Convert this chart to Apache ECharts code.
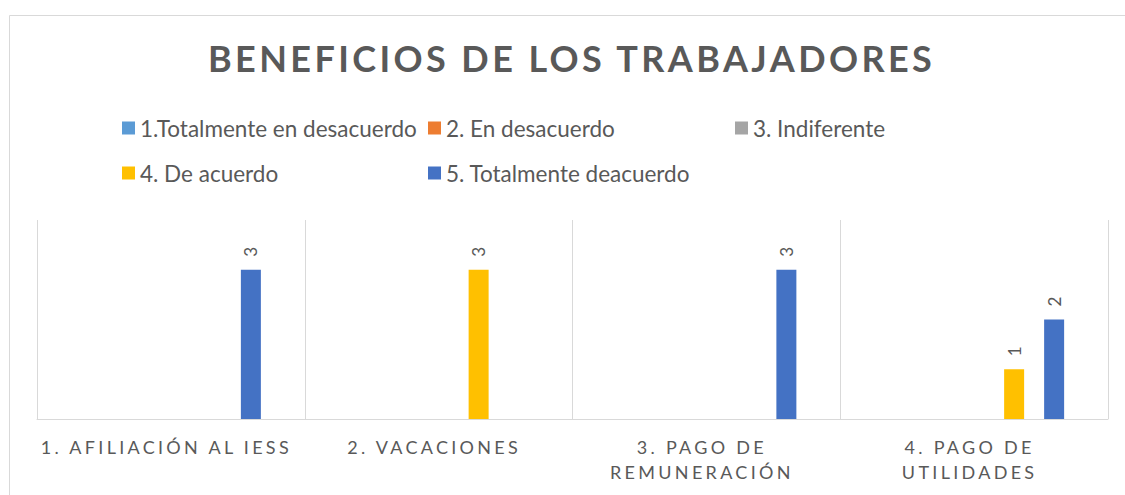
<!DOCTYPE html>
<html>
<head>
<meta charset="utf-8">
<script src="https://cdn.jsdelivr.net/npm/echarts@6/dist/echarts.min.js"></script>
<style>
  html, body { margin: 0; padding: 0; background: #fff; }
  #chart { width: 1125px; height: 495px; }
  /* letter-spaced texts (title and category labels) */
  #chart text[style*="Liberation"] { letter-spacing: 3.4px; }
  #chart text[style*="DejaVu"] { letter-spacing: 3.3px; }
</style>
</head>
<body>
<div id="chart"></div>
<script>
const titleText = 'BENEFICIOS DE LOS TRABAJADORES';
const categories = ['1. AFILIACIÓN AL IESS', '2. VACACIONES', '3. PAGO DE REMUNERACIÓN', '4. PAGO DE UTILIDADES'];
const seriesNames = ['1.Totalmente en desacuerdo', '2. En desacuerdo', '3. Indiferente', '4. De acuerdo', '5. Totalmente deacuerdo'];
const totalmenteDesacuerdo = [null, null, null, null];
const enDesacuerdo = [null, null, null, null];
const indiferente = [null, null, null, null];
const deAcuerdo = [null, 3, null, 1];
const totalmenteDeacuerdo = [3, null, 3, 2];
const seriesColors = ['#5B9BD5', '#ED7D31', '#A5A5A5', '#FFC000', '#4472C4'];
const seriesValues = [totalmenteDesacuerdo, enDesacuerdo, indiferente, deAcuerdo, totalmenteDeacuerdo];

const chart = echarts.init(document.getElementById('chart'), null, { renderer: 'svg' });
const txt = '#595959';
const legendText = { color: txt, fontSize: 22.5, lineHeight: 26, fontFamily: 'Lato' };
const legendBase = {
  orient: 'vertical', itemWidth: 13, itemHeight: 13, itemGap: 19,
  icon: 'rect', textStyle: legendText, selectedMode: false, top: 115, padding: 0
};
chart.setOption({
  animation: false,
  graphic: [{
    type: 'rect', left: 7, top: 13,
    shape: { width: 1300, height: 700 },
    style: { fill: 'none', stroke: '#d9d9d9', lineWidth: 1 }
  }],
  title: {
    text: titleText, left: 208, top: 40, padding: 0,
    textStyle: { color: txt, fontSize: 36, fontWeight: 'bold', fontFamily: "'Lato', 'Liberation Sans'" }
  },
  legend: [
    Object.assign({}, legendBase, { left: 122, data: [seriesNames[0], seriesNames[3]] }),
    Object.assign({}, legendBase, { left: 428, data: [seriesNames[1], seriesNames[4]] }),
    Object.assign({}, legendBase, { left: 735, data: [seriesNames[2]] })
  ],
  grid: { left: 37, right: 17, top: 220, bottom: 76, containLabel: false },
  xAxis: {
    type: 'category', data: categories,
    axisLine: { lineStyle: { color: '#d9d9d9', width: 1 } },
    axisTick: { show: false },
    splitLine: { show: true, interval: 0, lineStyle: { color: '#d9d9d9', width: 1 } },
    axisLabel: {
      interval: 0, margin: 15, color: txt, fontSize: 18, lineHeight: 25,
      padding: [0, 9, 0, 0],
      fontFamily: "'Lato', 'DejaVu Sans'",
      formatter: v => v.replace(/^(\d\. PAGO DE) /, '$1\n')
    }
  },
  yAxis: {
    type: 'value', min: 0, max: 4, interval: 1,
    axisLine: { show: false }, axisTick: { show: false },
    axisLabel: { show: false }, splitLine: { show: false }
  },
  series: seriesNames.map((name, i) => ({
    name, type: 'bar', data: seriesValues[i],
    barWidth: 20, barGap: '100%',
    itemStyle: { color: seriesColors[i] },
    label: {
      show: true, position: 'top', rotate: 90, align: 'left', verticalAlign: 'middle',
      distance: 13, color: txt, fontSize: 17, fontFamily: 'Lato'
    }
  }))
});
</script>
</body>
</html>
